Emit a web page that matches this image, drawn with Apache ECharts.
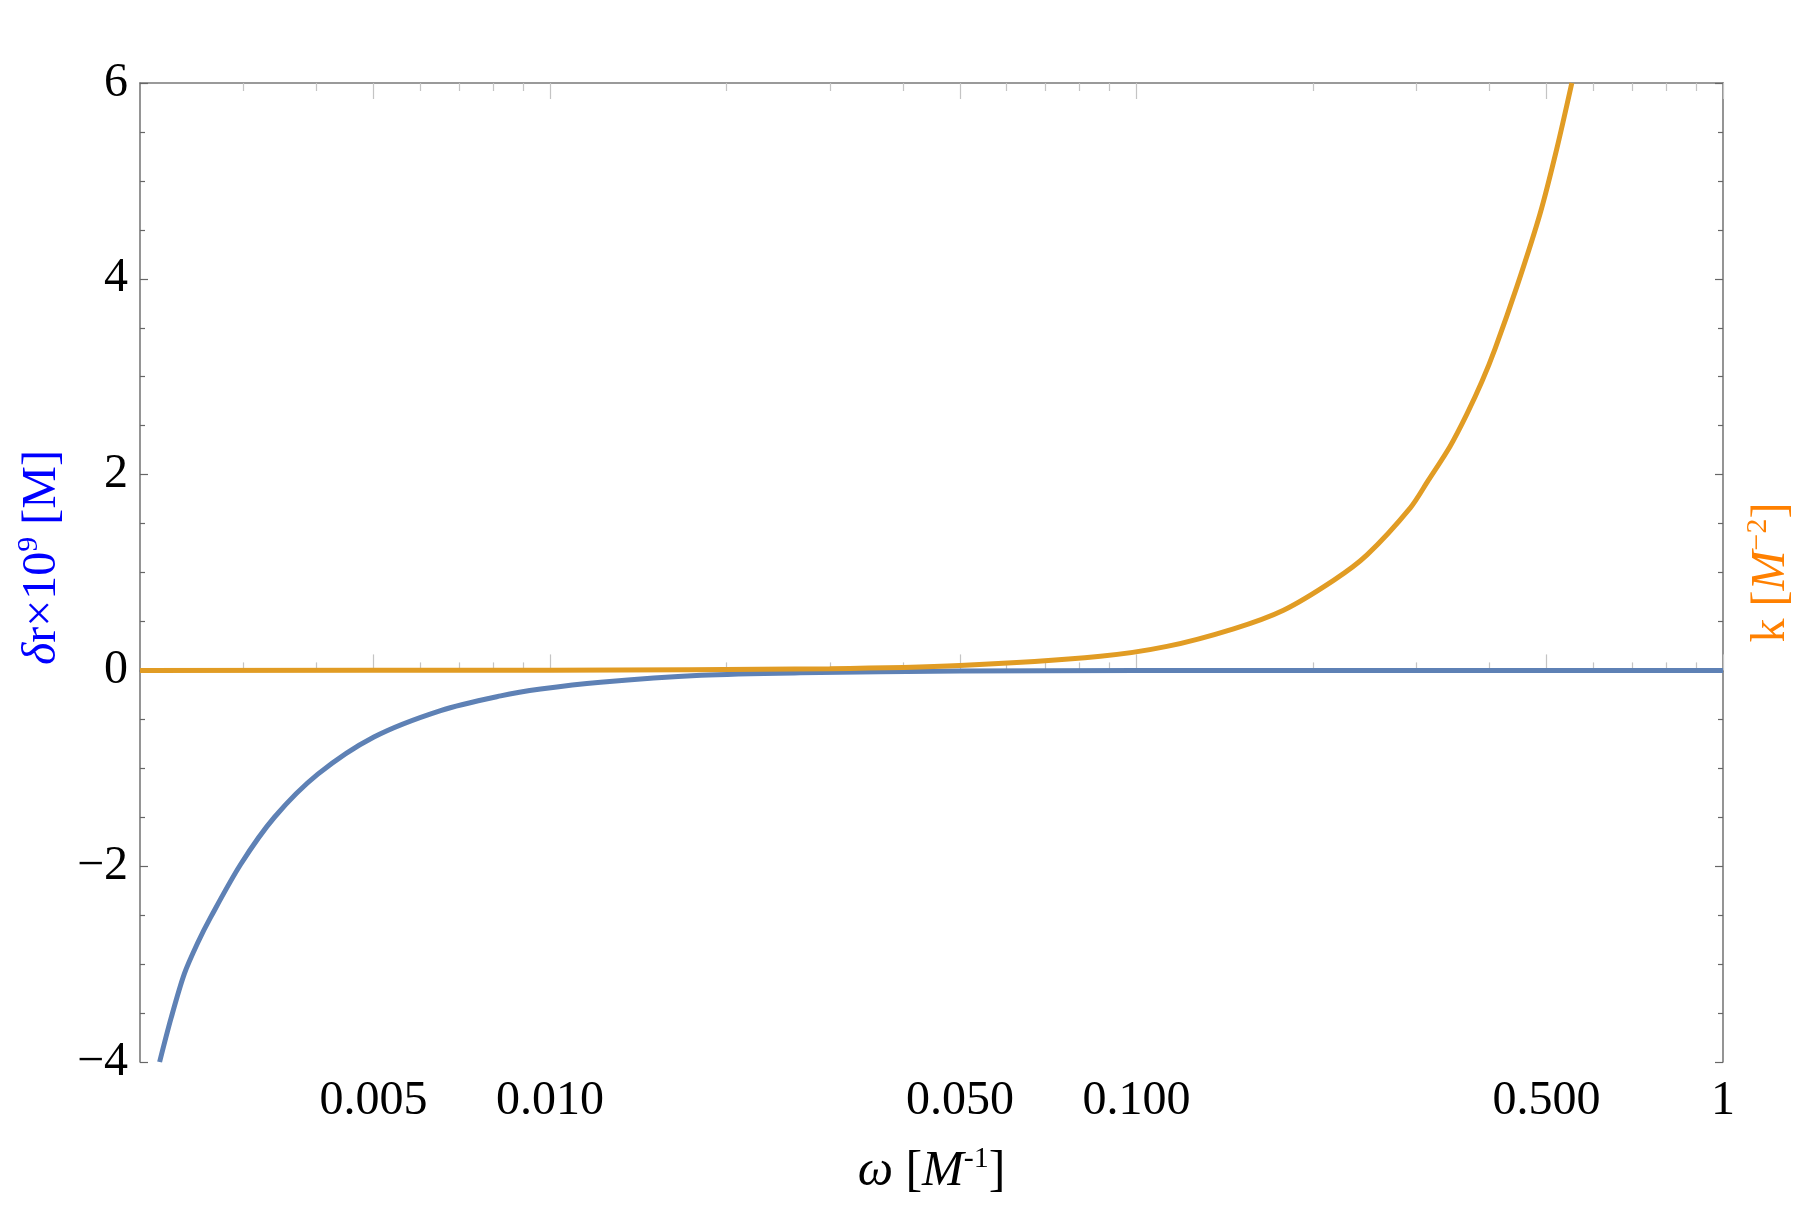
<!DOCTYPE html>
<html>
<head>
<meta charset="utf-8">
<script src="https://cdn.jsdelivr.net/npm/echarts@6/dist/echarts.min.js"></script>
<style>
  html, body { margin: 0; padding: 0; background: #fff; }
  #chart { width: 1800px; height: 1205px; }
</style>
</head>
<body>
<div id="chart"></div>
<script>
// values
var omegaBlue = [0.00216, 0.00226, 0.00238, 0.00251, 0.00264, 0.00297, 0.00339, 0.00402, 0.00501, 0.00651, 0.00824, 0.00964, 0.0122, 0.0181, 0.0267, 0.05, 0.1, 0.3, 1];
var deltaR    = [-4.0, -3.55, -3.10, -2.78, -2.52, -1.98, -1.50, -1.06, -0.68, -0.41, -0.26, -0.19, -0.12, -0.05, -0.025, -0.007, -0.002, 0, 0];

var omegaOrange = [0.002, 0.01, 0.03, 0.05, 0.0868, 0.1127, 0.1464, 0.1781, 0.2168, 0.2472, 0.293, 0.3144, 0.3426, 0.366, 0.3881, 0.4089, 0.4452, 0.4879, 0.5208, 0.5524];
var kValues     = [0, 0.002, 0.018, 0.05, 0.145, 0.245, 0.425, 0.615, 0.92, 1.18, 1.66, 1.94, 2.29, 2.62, 2.95, 3.29, 3.92, 4.67, 5.33, 6.0];

var xMajorTicks  = [0.005, 0.01, 0.05, 0.1, 0.5, 1];
var xMajorLabels = ['0.005', '0.010', '0.050', '0.100', '0.500', '1'];
var xMinorTicks  = [0.003, 0.004, 0.006, 0.007, 0.008, 0.009, 0.02, 0.03, 0.04, 0.06, 0.07, 0.08, 0.09, 0.2, 0.3, 0.4, 0.6, 0.7, 0.8, 0.9];

var FONT = 'Liberation Serif';
var FRAME = '#7a7a7a';

function zip(xs, ys) {
  return xs.map(function (x, i) { return [x, ys[i]]; });
}

function xLabel(v) {
  for (var i = 0; i < xMajorTicks.length; i++) {
    if (Math.abs(v - xMajorTicks[i]) / xMajorTicks[i] < 1e-6) return xMajorLabels[i];
  }
  return '';
}

function logAxis(pos, ticks, len, extra) {
  var a = {
    type: 'log',
    position: pos,
    min: 0.002,
    max: 1,
    axisLine: { show: false },
    splitLine: { show: false },
    axisTick: { show: true, inside: true, length: len, customValues: ticks,
                lineStyle: { color: '#c4c4c4', width: 1.2 } },
    axisLabel: { show: false }
  };
  return Object.assign(a, extra || {});
}

var chart = echarts.init(document.getElementById('chart'));

var richCommon = {
  i: { fontFamily: FONT, fontSize: 50, fontStyle: 'italic' },
  sup: { fontFamily: FONT, fontSize: 30, padding: [0, 0, 26, 0] }
};

chart.setOption({
  animation: false,
  backgroundColor: '#fff',
  grid: { left: 140, right: 77, top: 83, bottom: 143, outerBoundsMode: 'none' },
  xAxis: [
    logAxis('bottom', xMajorTicks, 16, {
      axisLine: { show: true, lineStyle: { color: FRAME, width: 1.6 } },
      axisLabel: {
        show: true, customValues: xMajorTicks, formatter: xLabel,
        fontFamily: FONT, fontSize: 48, color: '#000', margin: 15
      },
      name: '{i|ω} [{i|M}{sup|-1}]',
      nameLocation: 'middle',
      nameGap: 82,
      nameTextStyle: { fontFamily: FONT, fontSize: 50, color: '#000', rich: richCommon }
    }),
    logAxis('bottom', xMinorTicks, 8),
    logAxis('top', xMajorTicks, 16, {
      axisLine: { show: true, lineStyle: { color: FRAME, width: 1.6 } }
    }),
    logAxis('top', xMinorTicks, 8)
  ],
  yAxis: [
    {
      type: 'value',
      position: 'left',
      min: -4, max: 6, interval: 2,
      axisLine: { show: true, lineStyle: { color: FRAME, width: 1.6 } },
      splitLine: { show: false },
      axisTick: { show: true, inside: true, length: 8, lineStyle: { color: '#666', width: 1.2 } },
      minorTick: { show: true, splitNumber: 4, length: 5, lineStyle: { color: '#666', width: 1.2 } },
      axisLabel: {
        fontFamily: FONT, fontSize: 48, color: '#000', margin: 12,
        formatter: function (v) { return v < 0 ? '\u2212' + Math.abs(v) : String(v); }
      },
      name: '{i|δ}r×10{sup|9} [M]',
      nameLocation: 'middle',
      nameGap: 66,
      nameTextStyle: {
        fontFamily: FONT, fontSize: 48, color: '#0000ff', padding: [0, 0, 0, 30],
        rich: {
          i: { fontFamily: FONT, fontSize: 48, fontStyle: 'italic', color: '#0000ff' },
          sup: { fontFamily: FONT, fontSize: 30, color: '#0000ff', padding: [0, 0, 26, 0] }
        }
      }
    },
    {
      type: 'value',
      position: 'right',
      min: -4, max: 6, interval: 2,
      axisLine: { show: true, lineStyle: { color: FRAME, width: 1.6 } },
      splitLine: { show: false },
      axisTick: { show: true, inside: true, length: 8, lineStyle: { color: '#666', width: 1.2 } },
      minorTick: { show: true, splitNumber: 4, length: 5, lineStyle: { color: '#666', width: 1.2 } },
      axisLabel: { show: false },
      name: 'k [{i|M}{sup|\u22122}]',
      nameLocation: 'middle',
      nameGap: 20,
      nameTextStyle: {
        fontFamily: FONT, fontSize: 48, color: '#ff8000',
        rich: {
          i: { fontFamily: FONT, fontSize: 48, fontStyle: 'italic', color: '#ff8000' },
          sup: { fontFamily: FONT, fontSize: 30, color: '#ff8000', padding: [0, 0, 26, 0] }
        }
      }
    }
  ],
  series: [
    {
      name: 'deltaR',
      type: 'line',
      xAxisIndex: 0, yAxisIndex: 0,
      data: zip(omegaBlue, deltaR),
      showSymbol: false,
      smooth: 0.3,
      lineStyle: { color: '#5e81b5', width: 5 }
    },
    {
      name: 'k',
      type: 'line',
      xAxisIndex: 0, yAxisIndex: 0,
      data: zip(omegaOrange, kValues),
      showSymbol: false,
      smooth: 0.3,
      lineStyle: { color: '#e19c24', width: 5 }
    }
  ]
});
</script>
</body>
</html>
